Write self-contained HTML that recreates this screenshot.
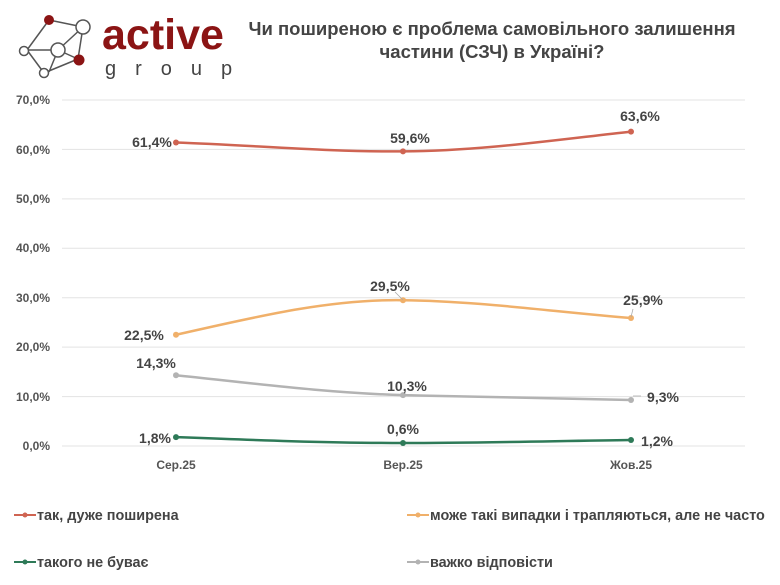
<!DOCTYPE html>
<html><head><meta charset="utf-8"><style>
html,body{margin:0;padding:0;background:#fff;}
svg{display:block;font-family:"Liberation Sans","DejaVu Sans",sans-serif;}
</style></head><body>
<svg width="780" height="585" viewBox="0 0 780 585" xmlns="http://www.w3.org/2000/svg">
<rect width="780" height="585" fill="#fff"/>
<g stroke="#555" stroke-width="1.5" fill="none">
<line x1="49" y1="20" x2="83" y2="27"/><line x1="49" y1="20" x2="27" y2="50"/>
<line x1="83" y1="27" x2="78" y2="59"/><line x1="83" y1="27" x2="58" y2="50"/>
<line x1="27" y1="50" x2="58" y2="50"/><line x1="27" y1="50" x2="44" y2="73"/>
<line x1="58" y1="50" x2="78" y2="59"/><line x1="58" y1="50" x2="49" y2="72"/>
<line x1="78" y1="59" x2="44" y2="73"/>
<circle cx="83" cy="27" r="7" fill="#fff"/><circle cx="58" cy="50" r="7" fill="#fff"/>
<circle cx="24" cy="51" r="4.5" fill="#fff"/><circle cx="44" cy="73" r="4.5" fill="#fff"/>
</g>
<circle cx="49" cy="20" r="5" fill="#8b1414"/><circle cx="79" cy="60" r="5.5" fill="#8b1414"/>
<text x="102" y="49" font-size="43" font-weight="bold" fill="#8b1414">active</text>
<text x="105" y="75" font-size="20" fill="#444" letter-spacing="19">group</text>
<text x="492" y="35" font-size="18.5" font-weight="bold" fill="#444" text-anchor="middle">Чи поширеною є проблема самовільного залишення</text>
<text x="492" y="58" font-size="18.5" font-weight="bold" fill="#444" text-anchor="middle">частини (СЗЧ) в Україні?</text>
<g stroke="#e3e3e3" stroke-width="1">
<line x1="62" y1="100" x2="745" y2="100"/><line x1="62" y1="149.4" x2="745" y2="149.4"/>
<line x1="62" y1="198.9" x2="745" y2="198.9"/><line x1="62" y1="248.3" x2="745" y2="248.3"/>
<line x1="62" y1="297.7" x2="745" y2="297.7"/><line x1="62" y1="347.1" x2="745" y2="347.1"/>
<line x1="62" y1="396.6" x2="745" y2="396.6"/><line x1="62" y1="446" x2="745" y2="446"/>
</g>
<g font-size="12" font-weight="bold" fill="#555" text-anchor="end">
<text x="50" y="104">70,0%</text><text x="50" y="154">60,0%</text><text x="50" y="203">50,0%</text>
<text x="50" y="252">40,0%</text><text x="50" y="302">30,0%</text><text x="50" y="351">20,0%</text>
<text x="50" y="401">10,0%</text><text x="50" y="450">0,0%</text>
</g>
<g font-size="12" font-weight="bold" fill="#555" text-anchor="middle">
<text x="176" y="469">Сер.25</text><text x="403" y="469">Вер.25</text><text x="631" y="469">Жов.25</text>
</g>
<g fill="none" stroke-width="2.5">
<path d="M176,142.5 C251,145 327,152 403,151.4 C479,151 555,140 631,131.6" stroke="#cf6452"/>
<path d="M176,334.8 C251,318 327,299 403,300.2 C479,301 555,312 631,318" stroke="#f0b06a"/>
<path d="M176,375.3 C251,383 327,393 403,395.1 C479,397 555,399 631,400" stroke="#b3b3b3"/>
<path d="M176,437.1 C251,440 327,443 403,443 C479,443 555,441 631,440" stroke="#2e7a58"/>
</g>
<g>
<circle cx="176" cy="142.5" r="3" fill="#cf6452"/><circle cx="403" cy="151.4" r="3" fill="#cf6452"/><circle cx="631" cy="131.6" r="3" fill="#cf6452"/>
<circle cx="176" cy="334.8" r="3" fill="#f0b06a"/><circle cx="403" cy="300.2" r="3" fill="#f0b06a"/><circle cx="631" cy="318" r="3" fill="#f0b06a"/>
<circle cx="176" cy="375.3" r="3" fill="#b3b3b3"/><circle cx="403" cy="395.1" r="3" fill="#b3b3b3"/><circle cx="631" cy="400" r="3" fill="#b3b3b3"/>
<circle cx="176" cy="437.1" r="3" fill="#2e7a58"/><circle cx="403" cy="443" r="3" fill="#2e7a58"/><circle cx="631" cy="440" r="3" fill="#2e7a58"/>
</g>
<g stroke="#aaa" stroke-width="0.8" fill="none">
<line x1="395" y1="292" x2="403" y2="300"/><line x1="633" y1="309" x2="631" y2="317"/>
<line x1="633" y1="396" x2="641" y2="396"/>
</g>
<g font-size="14" font-weight="bold" fill="#444" text-anchor="middle">
<text x="152" y="147">61,4%</text><text x="410" y="143">59,6%</text><text x="640" y="121">63,6%</text>
<text x="144" y="340">22,5%</text><text x="390" y="291">29,5%</text><text x="643" y="305">25,9%</text>
<text x="156" y="368">14,3%</text><text x="407" y="391">10,3%</text><text x="663" y="402">9,3%</text>
<text x="155" y="443">1,8%</text><text x="403" y="434">0,6%</text><text x="657" y="446">1,2%</text>
</g>
<g stroke-width="2">
<line x1="14" y1="515" x2="36" y2="515" stroke="#cf6452"/><circle cx="25" cy="515" r="2.5" fill="#cf6452"/>
<line x1="14" y1="562" x2="36" y2="562" stroke="#2e7a58"/><circle cx="25" cy="562" r="2.5" fill="#2e7a58"/>
<line x1="407" y1="515" x2="429" y2="515" stroke="#f0b06a"/><circle cx="418" cy="515" r="2.5" fill="#f0b06a"/>
<line x1="407" y1="562" x2="429" y2="562" stroke="#b3b3b3"/><circle cx="418" cy="562" r="2.5" fill="#b3b3b3"/>
</g>
<g font-size="14.4" font-weight="bold" fill="#444">
<text x="37" y="520">так, дуже поширена</text>
<text x="37" y="567">такого не буває</text>
<text x="430" y="520">може такі випадки і трапляються, але не часто</text>
<text x="430" y="567">важко відповісти</text>
</g>
</svg>
</body></html>
